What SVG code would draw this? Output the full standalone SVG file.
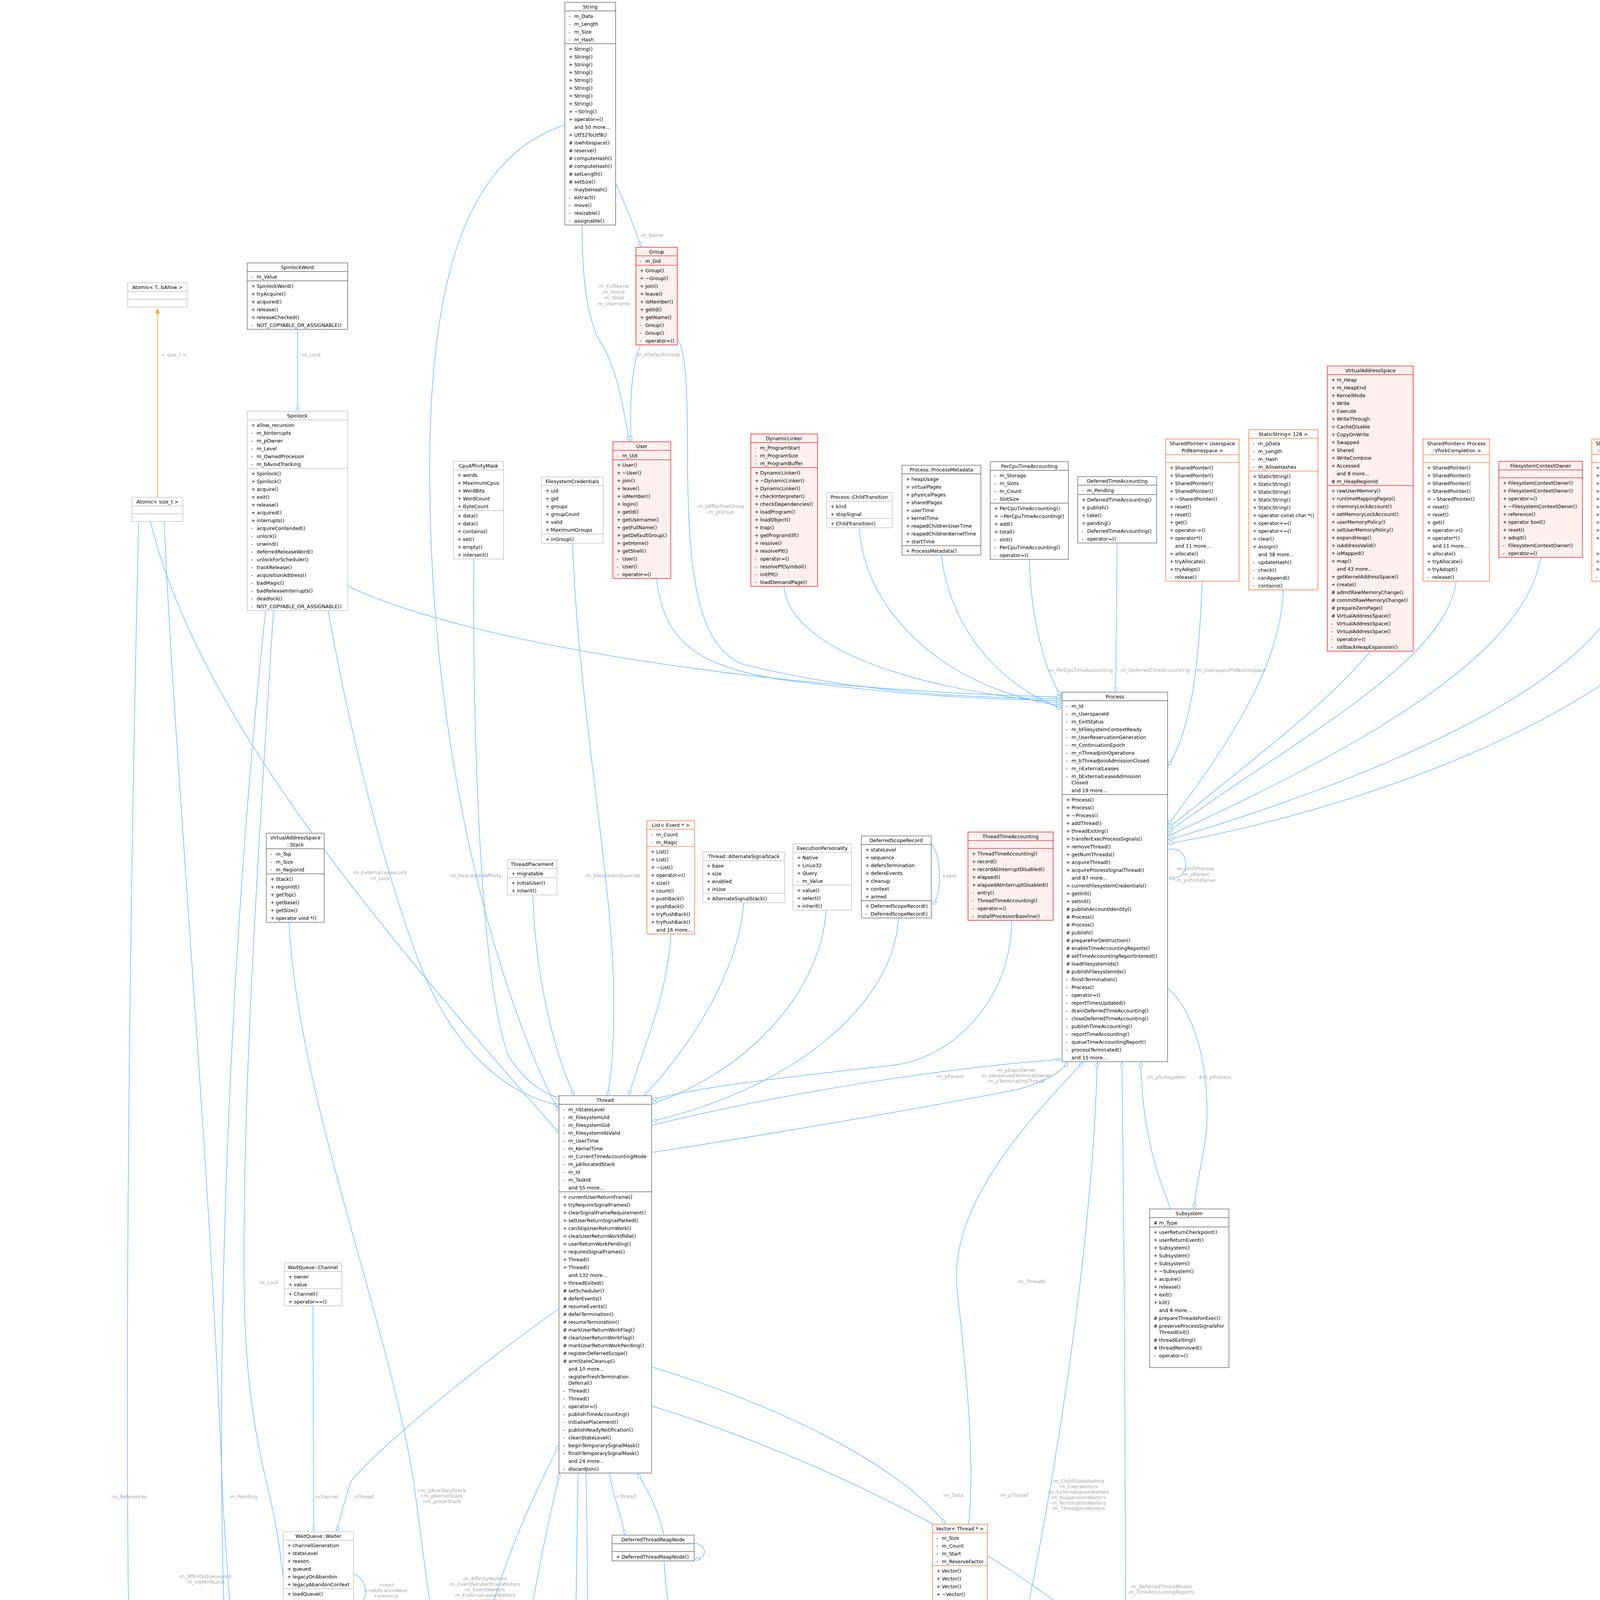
<svg xmlns="http://www.w3.org/2000/svg" width="4819" height="6569" viewBox="0 0 4819 6569">
<style>
.t{font-family:"DejaVu Sans","Liberation Sans",sans-serif;font-size:12.5px;fill:#000}
.h{font-family:"DejaVu Sans","Liberation Sans",sans-serif;font-size:12.5px;fill:#000;text-anchor:middle}
.lb{font-family:"DejaVu Sans","Liberation Sans",sans-serif;font-size:12.5px;fill:#A8A8A8;text-anchor:middle}
.e{fill:none;stroke:#63B8FF;stroke-width:1.5}
.dk rect,.dk line{stroke:#666;stroke-width:1.4;fill:#fff}
.lt rect,.lt line{stroke:#BFBFBF;stroke-width:1.4;fill:#fff}
.rd rect,.rd line{stroke:#F03030;stroke-width:1.6;fill:#FFF0F0}
.or rect,.or line{stroke:#FF7A45;stroke-width:1.6;fill:#fff}
.gr rect,.gr line{stroke:#666;stroke-width:1.4;fill:#999}
</style>
<defs>
<marker id="d" viewBox="0 0 16 10" refX="15" refY="5" markerWidth="16" markerHeight="10" markerUnits="userSpaceOnUse" orient="auto"><path d="M1,5 L8,1 L15,5 L8,9 Z" fill="#fff" stroke="#63B8FF" stroke-width="1.3"/></marker>
<marker id="to" viewBox="0 0 14 12" refX="13" refY="6" markerWidth="14" markerHeight="12" markerUnits="userSpaceOnUse" orient="auto"><path d="M1,1 L13,6 L1,11 Z" fill="#FFA500" stroke="#FFA500"/></marker>
<marker id="tb" viewBox="0 0 14 12" refX="13" refY="6" markerWidth="14" markerHeight="12" markerUnits="userSpaceOnUse" orient="auto"><path d="M1,1 L13,6 L1,11 Z" fill="#fff" stroke="#63B8FF" stroke-width="1.3"/></marker>
</defs>
<rect width="4819" height="6569" fill="#fff"/>

<g id="connectors">
<path class="e" d="M403,1273 L403,790" stroke="#FFA500" style="stroke:#FFA500" marker-end="url(#to)"/>
<text class="lb" x="445" y="913">&lt; size_t &gt;</text>
<path class="e" d="M762,843 L762,1051" marker-end="url(#d)"/>
<text class="lb" x="795" y="913">-m_Lock</text>
<path class="e" d="M1576,470 C1600,520 1625,585 1641,631" marker-end="url(#d)"/>
<text class="lb" x="1668" y="607">-m_Name</text>
<path class="e" d="M1490,576 C1490,780 1520,850 1540,880 C1570,930 1590,1000 1610,1129" marker-end="url(#d)"/>
<text class="lb" x="1570" y="737">-m_FullName</text><text class="lb" x="1570" y="752">-m_Home</text><text class="lb" x="1570" y="767">-m_Shell</text><text class="lb" x="1570" y="782">-m_Username</text>
<path class="e" d="M1640,883 C1620,930 1612,1000 1615,1129" marker-end="url(#d)"/>
<text class="lb" x="1683" y="912">-m_pDefaultGroup</text>
<path class="e" d="M1734,868 C1755,890 1760,1000 1760,1150 C1760,1450 1780,1650 1900,1700 C2200,1775 2500,1788 2717,1788" marker-end="url(#d)"/>
<text class="lb" x="1844" y="1300">-m_pEffectiveGroup</text><text class="lb" x="1844" y="1315">-m_pGroup</text>
<path class="e" d="M1680,1481 C1700,1620 1750,1700 2000,1740 C2400,1790 2600,1792 2717,1793" marker-end="url(#d)"/>
<path class="e" d="M2007,1501 C2020,1650 2300,1760 2717,1800" marker-end="url(#d)"/>
<path class="e" d="M2200,1351 C2210,1550 2400,1760 2717,1807" marker-end="url(#d)"/>
<path class="e" d="M2410,1421 C2430,1600 2550,1750 2717,1814" marker-end="url(#d)"/>
<path class="e" d="M2635,1432 C2640,1600 2680,1730 2717,1780" marker-end="url(#d)"/>
<text class="lb" x="2765" y="1720">-m_PerCpuTimeAccounting</text>
<path class="e" d="M2860,1390 L2856,1770" marker-end="url(#d)"/>
<text class="lb" x="2955" y="1720">-m_DeferredTimeAccounting</text>
<path class="e" d="M3078,1488 C3070,1650 3060,1850 2991,1960" marker-end="url(#d)"/>
<text class="lb" x="3150" y="1720">-m_UserspacePidNamespace</text>
<path class="e" d="M3285,1510 C3280,1700 3150,1900 2991,2110" marker-end="url(#d)"/>
<path class="e" d="M3508,1667 C3400,1800 3200,1950 2991,2120" marker-end="url(#d)"/>
<path class="e" d="M3728,1488 C3700,1700 3300,1900 2991,2130" marker-end="url(#d)"/>
<path class="e" d="M3944,1427 C3900,1700 3400,1950 2991,2140" marker-end="url(#d)"/>
<path class="e" d="M4160,1488 C4100,1750 3500,2000 2991,2150" marker-end="url(#d)"/>
<path class="e" d="M4373,1441 C4300,1750 3600,2050 2991,2160" marker-end="url(#d)"/>
<path class="e" d="M2991,2175 C3045,2160 3055,2255 2993,2248" marker-end="url(#d)"/>
<text class="lb" x="3060" y="2228">-m_pInitProcess</text><text class="lb" x="3060" y="2243">-m_pParent</text><text class="lb" x="3060" y="2258">-m_pVforkOwner</text>
<path class="e" d="M890,1500 C1200,1650 2000,1770 2717,1784" marker-end="url(#d)"/>
<path class="e" d="M2989,2530 C3050,2580 3090,2700 3090,2850 C3090,2950 3060,3020 3058,3093" marker-end="url(#d)"/>
<text class="lb" x="3110" y="2762">#m_pProcess</text>
<path class="e" d="M2997,3095 C2960,3000 2925,2900 2920,2720" marker-end="url(#d)"/>
<text class="lb" x="2985" y="2762">-m_pSubsystem</text>
<path class="e" d="M1670,2880 C2000,2800 2400,2735 2717,2712" marker-end="url(#d)"/>
<text class="lb" x="2431" y="2760">-m_pParent</text>
<path class="e" d="M1670,2950 C2000,2900 2450,2820 2600,2790 C2680,2770 2720,2740 2733,2720" marker-end="url(#d)"/>
<text class="lb" x="2600" y="2744">-m_pExecOwner</text><text class="lb" x="2600" y="2758">-m_pReservedTerminalOwner</text><text class="lb" x="2600" y="2772">-m_pTerminatingThread</text>
<path class="e" d="M2590,2356 C2590,2550 2450,2700 2300,2725 C2000,2760 1800,2780 1670,2815" marker-end="url(#d)"/>
<path class="e" d="M2480,3902 C2500,3700 2460,3400 2450,3300 C2430,3100 2600,2900 2772,2720" marker-end="url(#d)"/>
<text class="lb" x="2640" y="3285">-m_Threads</text>
<path class="e" d="M1670,3500 C2000,3600 2300,3750 2420,3900" marker-end="url(#d)"/>
<text class="lb" x="2440" y="3832">-m_Data</text>
<path class="e" d="M1670,3600 C2000,3700 2600,3950 2901,4278" marker-end="url(#d)"/>
<text class="lb" x="2595" y="3832">-m_pThread</text>
<path class="e" d="M1031,4780 C1500,4850 2300,4900 2440,4860 C2600,4400 2790,3400 2809,2720" marker-end="url(#d)"/>
<text class="lb" x="2760" y="3796">-m_ChildStateWaiters</text><text class="lb" x="2760" y="3810">-m_ExecWaiters</text><text class="lb" x="2760" y="3824">-m_ExternalLeaseWaiters</text><text class="lb" x="2760" y="3838">-m_SuspensionWaiters</text><text class="lb" x="2760" y="3852">-m_TerminationWaiters</text><text class="lb" x="2760" y="3866">-m_ThreadJoinWaiters</text>
<path class="e" d="M1983,5020 C2300,4950 2860,4950 2876,4800 C2885,4300 2880,3300 2872,2720" marker-end="url(#d)"/>
<text class="lb" x="2972" y="4066">-m_DeferredThreadReaps</text><text class="lb" x="2972" y="4080">-m_TimeAccountingReports</text>
<path class="e" d="M801,3343 L803,3919" marker-end="url(#d)"/>
<text class="lb" x="836" y="3836">+channel</text>
<path class="e" d="M1431,3350 C1150,3550 960,3720 900,3790 C885,3830 872,3880 862,3919" marker-end="url(#d)"/>
<text class="lb" x="931" y="3836">+thread</text>
<path class="e" d="M905,4030 C945,4040 945,4110 907,4112" marker-end="url(#d)"/>
<text class="lb" x="988" y="4062">+next</text><text class="lb" x="988" y="4076">+notificationNext</text><text class="lb" x="988" y="4090">+previous</text>
<path class="e" d="M700,1563 C660,2200 620,2800 625,3300 C630,3700 700,3800 720,4000 C760,4300 800,4450 860,4558" marker-end="url(#d)"/>
<text class="lb" x="687" y="3288">-m_Lock</text>
<path class="e" d="M420,1335 C450,2000 540,3000 570,3830 C590,4200 640,4700 700,5000 C740,5200 760,5350 765,5438" marker-end="url(#d)"/>
<text class="lb" x="622" y="3836">-m_Pending</text>
<path class="e" d="M355,1335 C330,2400 320,3500 330,4200 C340,4700 345,5100 352,5290" marker-end="url(#d)"/>
<text class="lb" x="330" y="3836">-m_References</text>
<path class="e" d="M385,1335 C500,1800 900,2300 1431,2900" marker-end="url(#d)"/>
<path class="e" d="M680,1563 C600,2300 540,3400 580,4300 C600,4800 1000,5500 1376,5760" marker-end="url(#d)"/>
<text class="lb" x="525" y="4040">-m_AffinityQueueLock</text><text class="lb" x="525" y="4054">-m_IrqWorkLock</text>
<path class="e" d="M840,1563 C900,1900 980,2200 1050,2400 C1150,2700 1300,2800 1431,2830" marker-end="url(#d)"/>
<text class="lb" x="972" y="2238">-m_ExternalLeaseLock</text><text class="lb" x="972" y="2253">-m_Lock</text>
<path class="e" d="M1213,1431 C1210,1900 1230,2500 1300,2700 C1350,2780 1400,2800 1433,2812" marker-end="url(#d)"/>
<text class="lb" x="1217" y="2246">-m_RequestedAffinity</text>
<path class="e" d="M1466,1391 C1480,1800 1560,2200 1570,2500 C1575,2700 1560,2780 1555,2803" marker-end="url(#d)"/>
<text class="lb" x="1568" y="2246">-m_FilesystemOverride</text>
<path class="e" d="M1446,320 C1200,400 1100,700 1100,1200 C1100,2000 1300,2600 1431,2845" marker-end="url(#d)"/>
<path class="e" d="M1364,2291 C1370,2500 1420,2700 1470,2803" marker-end="url(#d)"/>
<path class="e" d="M1717,2391 C1710,2550 1640,2700 1610,2803" marker-end="url(#d)"/>
<path class="e" d="M1904,2311 C1890,2500 1750,2700 1650,2803" marker-end="url(#d)"/>
<path class="e" d="M2115,2330 C2100,2550 1900,2750 1670,2825" marker-end="url(#d)"/>
<path class="e" d="M2300,2350 C2290,2560 2050,2780 1670,2870" marker-end="url(#d)"/>
<path class="e" d="M2384,2160 C2412,2190 2412,2300 2386,2315" marker-end="url(#d)"/>
<text class="lb" x="2430" y="2247">+next</text>
<path class="e" d="M740,2361 C760,2800 1000,3400 1060,3800 C1100,4100 1110,4220 1150,4250 C1200,4290 1220,4400 1230,4551" marker-end="url(#d)"/>
<text class="lb" x="1130" y="3820">+m_pAuxillaryStack</text><text class="lb" x="1130" y="3834">+m_pKernelStack</text><text class="lb" x="1130" y="3848">+m_pUserStack</text>
<path class="e" d="M1000,4558 C1100,4400 1200,4300 1230,4230 C1280,4000 1380,3800 1431,3700" marker-end="url(#d)"/>
<text class="lb" x="1240" y="4046">-m_AffinityWaiters</text><text class="lb" x="1240" y="4060">-m_EventSenderDrainWaiters</text><text class="lb" x="1240" y="4074">-m_EventWaiters</text><text class="lb" x="1240" y="4088">-m_ExternalLeaseWaiters</text><text class="lb" x="1240" y="4102">-m_JoinWaiters</text>
<path class="e" d="M1300,4551 C1320,4300 1400,3900 1433,3773" marker-end="url(#d)"/>
<path class="e" d="M831,4848 C720,4980 700,5100 690,5180 C670,5290 600,5330 499,5397" marker-end="url(#d)"/>
<text class="lb" x="803" y="5126">-m_CompletionWaiters</text>
<path class="e" d="M910,4950 C905,5150 840,5350 778,5438" marker-end="url(#d)"/>
<text class="lb" x="952" y="5126">-m_pWaiters</text>
<path class="e" d="M1400,5727 C1000,5560 600,5400 575,5120 C560,4800 650,4450 760,4233" marker-end="url(#d)"/>
<text class="lb" x="622" y="5126">+scheduler</text>
<path class="e" d="M995,4950 C1010,5100 1030,5250 1031,5367" marker-end="url(#d)"/>
<text class="lb" x="1070" y="5126">-m_Waiters</text>
<path class="e" d="M790,5440 C810,5425 855,5430 855,5475 C855,5512 810,5512 790,5508" marker-end="url(#d)"/>
<text class="lb" x="905" y="5477">-m_pNext</text>
<path class="e" d="M405,4835 L405,5290" marker-end="url(#d)"/>
<text class="lb" x="437" y="5126">-m_Key</text>
<path class="e" d="M730,5506 C720,5640 780,5720 900,5800 C1100,5900 1300,5990 1374,6010" marker-end="url(#d)"/>
<text class="lb" x="880" y="5686">-m_TimeAccountingWorkerWake</text><text class="lb" x="880" y="5700">-m_pWorkerWakeHead</text>
<path class="e" d="M980,5579 C965,5700 1050,5850 1374,6030" marker-end="url(#d)"/>
<text class="lb" x="1095" y="5694">-m_NewThreadDataCondition</text>
<path class="e" d="M1031,4910 C1150,5000 1250,5300 1300,5600 C1330,5800 1350,5980 1374,6050" marker-end="url(#d)"/>
<text class="lb" x="1200" y="5474">-m_TimeAccountingWorkerWaiters</text>
<path class="e" d="M1480,3771 C1470,4400 1455,5200 1462,5727" marker-end="url(#d)"/>
<path class="e" d="M1700,3930 C1680,3850 1650,3800 1632,3773" marker-end="url(#d)"/>
<path class="e" d="M1560,3771 C1570,3830 1590,3880 1600,3928" marker-end="url(#d)"/>
<text class="lb" x="1602" y="3835">+thread</text>
<path class="e" d="M1777,3950 C1812,3955 1812,3990 1779,3992" marker-end="url(#d)"/>
<path class="e" d="M1700,3996 C1720,4300 1830,4800 1850,4976" marker-end="url(#d)"/>
<path class="e" d="M1500,3771 C1510,4200 1500,4600 1503,5727" marker-end="url(#d)"/>
<path class="e" d="M1340,4900 C1600,5100 1700,5270 1800,5278 C2000,5285 2150,5280 2193,5317" marker-end="url(#d)"/>
<path class="e" d="M2500,5619 C2450,5720 2200,5850 1642,6080" marker-end="url(#d)"/>
<text class="lb" x="2520" y="5686">-m_PendingNewThreadData</text>
<path class="e" d="M2720,5627 C2650,5800 2200,5950 1642,6100" marker-end="url(#d)"/>
<path class="e" d="M2020,5545 C1950,5700 1800,5950 1642,6005" marker-end="url(#d)"/>
<path class="e" d="M1642,5760 C1700,5650 1770,5560 1811,5517" marker-end="url(#tb)"/>
<path class="e" d="M2990,4538 C3050,4800 3000,5100 2950,5250 C2850,5600 2200,6000 1642,6120" marker-end="url(#d)"/>
<path class="e" d="M4630,1367 C4650,3000 4680,5500 4650,6200 C4600,6400 2500,6300 1642,6140" marker-end="url(#d)"/>
</g>

<g id="n_string" class="dk" transform="translate(1446,6)"><rect width="130" height="570"/><line x1="0" y1="22" x2="130" y2="22"/><line x1="0" y1="106" x2="130" y2="106"/>
<text class="h" x="65" y="16">String</text>
<text class="t" y="20"><tspan x="10" dy="20">-</tspan><tspan x="24">m_Data</tspan><tspan x="10" dy="20">-</tspan><tspan x="24">m_Length</tspan><tspan x="10" dy="20">-</tspan><tspan x="24">m_Size</tspan><tspan x="10" dy="20">-</tspan><tspan x="24">m_Hash</tspan></text>
<text class="t" y="104"><tspan x="10" dy="20">+</tspan><tspan x="24">String()</tspan><tspan x="10" dy="20">+</tspan><tspan x="24">String()</tspan><tspan x="10" dy="20">+</tspan><tspan x="24">String()</tspan><tspan x="10" dy="20">+</tspan><tspan x="24">String()</tspan><tspan x="10" dy="20">+</tspan><tspan x="24">String()</tspan><tspan x="10" dy="20">+</tspan><tspan x="24">String()</tspan><tspan x="10" dy="20">+</tspan><tspan x="24">String()</tspan><tspan x="10" dy="20">+</tspan><tspan x="24">String()</tspan><tspan x="10" dy="20">+</tspan><tspan x="24">~String()</tspan><tspan x="10" dy="20">+</tspan><tspan x="24">operator=()</tspan><tspan x="24" dy="20">and 50 more...</tspan><tspan x="10" dy="20">+</tspan><tspan x="24">Utf32ToUtf8()</tspan><tspan x="10" dy="20">#</tspan><tspan x="24">iswhitespace()</tspan><tspan x="10" dy="20">#</tspan><tspan x="24">reserve()</tspan><tspan x="10" dy="20">#</tspan><tspan x="24">computeHash()</tspan><tspan x="10" dy="20">#</tspan><tspan x="24">computeHash()</tspan><tspan x="10" dy="20">#</tspan><tspan x="24">setLength()</tspan><tspan x="10" dy="20">#</tspan><tspan x="24">setSize()</tspan><tspan x="10" dy="20">-</tspan><tspan x="24">maybeHash()</tspan><tspan x="10" dy="20">-</tspan><tspan x="24">extract()</tspan><tspan x="10" dy="20">-</tspan><tspan x="24">move()</tspan><tspan x="10" dy="20">-</tspan><tspan x="24">resizable()</tspan><tspan x="10" dy="20">-</tspan><tspan x="24">assignable()</tspan></text></g>

<g id="n_atomic_t" class="lt" transform="translate(327,724)"><rect width="152" height="62"/><line x1="0" y1="22" x2="152" y2="22"/><line x1="0" y1="42" x2="152" y2="42"/><text class="h" x="76" y="16">Atomic&lt; T, bAllow &gt;</text></g>

<g id="n_spinlockword" class="dk" transform="translate(633,673)"><rect width="257" height="170"/><line x1="0" y1="22" x2="257" y2="22"/><line x1="0" y1="46" x2="257" y2="46"/>
<text class="h" x="128" y="16">SpinlockWord</text>
<text class="t" y="20"><tspan x="10" dy="20">-</tspan><tspan x="24">m_Value</tspan></text>
<text class="t" y="44"><tspan x="10" dy="20">+</tspan><tspan x="24">SpinlockWord()</tspan><tspan x="10" dy="20">+</tspan><tspan x="24">tryAcquire()</tspan><tspan x="10" dy="20">+</tspan><tspan x="24">acquired()</tspan><tspan x="10" dy="20">+</tspan><tspan x="24">release()</tspan><tspan x="10" dy="20">+</tspan><tspan x="24">releaseChecked()</tspan><tspan x="10" dy="20">-</tspan><tspan x="24">NOT_COPYABLE_OR_ASSIGNABLE()</tspan></text></g>

<g id="n_spinlock" class="lt" transform="translate(633,1053)"><rect width="257" height="510"/><line x1="0" y1="22" x2="257" y2="22"/><line x1="0" y1="146" x2="257" y2="146"/>
<text class="h" x="128" y="16">Spinlock</text>
<text class="t" y="20"><tspan x="10" dy="20">+</tspan><tspan x="24">allow_recursion</tspan><tspan x="10" dy="20">-</tspan><tspan x="24">m_bInterrupts</tspan><tspan x="10" dy="20">-</tspan><tspan x="24">m_pOwner</tspan><tspan x="10" dy="20">-</tspan><tspan x="24">m_Level</tspan><tspan x="10" dy="20">-</tspan><tspan x="24">m_OwnedProcessor</tspan><tspan x="10" dy="20">-</tspan><tspan x="24">m_bAvoidTracking</tspan></text>
<text class="t" y="144"><tspan x="10" dy="20">+</tspan><tspan x="24">Spinlock()</tspan><tspan x="10" dy="20">+</tspan><tspan x="24">Spinlock()</tspan><tspan x="10" dy="20">+</tspan><tspan x="24">acquire()</tspan><tspan x="10" dy="20">+</tspan><tspan x="24">exit()</tspan><tspan x="10" dy="20">+</tspan><tspan x="24">release()</tspan><tspan x="10" dy="20">+</tspan><tspan x="24">acquired()</tspan><tspan x="10" dy="20">+</tspan><tspan x="24">interrupts()</tspan><tspan x="10" dy="20">-</tspan><tspan x="24">acquireContended()</tspan><tspan x="10" dy="20">-</tspan><tspan x="24">unlock()</tspan><tspan x="10" dy="20">-</tspan><tspan x="24">unwind()</tspan><tspan x="10" dy="20">-</tspan><tspan x="24">deferredReleaseWord()</tspan><tspan x="10" dy="20">-</tspan><tspan x="24">unlockForScheduler()</tspan><tspan x="10" dy="20">-</tspan><tspan x="24">trackRelease()</tspan><tspan x="10" dy="20">-</tspan><tspan x="24">acquisitionAddress()</tspan><tspan x="10" dy="20">-</tspan><tspan x="24">badMagic()</tspan><tspan x="10" dy="20">-</tspan><tspan x="24">badReleaseInterrupts()</tspan><tspan x="10" dy="20">-</tspan><tspan x="24">deadlock()</tspan><tspan x="10" dy="20">-</tspan><tspan x="24">NOT_COPYABLE_OR_ASSIGNABLE()</tspan></text></g>

<g id="n_atomic_size" class="lt" transform="translate(338,1273)"><rect width="130" height="62"/><line x1="0" y1="22" x2="130" y2="22"/><line x1="0" y1="42" x2="130" y2="42"/><text class="h" x="65" y="16">Atomic&lt; size_t &gt;</text></g>

<g id="n_group" class="rd" transform="translate(1628,633)"><rect width="106" height="250"/><line x1="0" y1="22" x2="106" y2="22"/><line x1="0" y1="46" x2="106" y2="46"/>
<text class="h" x="53" y="16">Group</text>
<text class="t" y="20"><tspan x="10" dy="20">-</tspan><tspan x="24">m_Gid</tspan></text>
<text class="t" y="44"><tspan x="10" dy="20">+</tspan><tspan x="24">Group()</tspan><tspan x="10" dy="20">+</tspan><tspan x="24">~Group()</tspan><tspan x="10" dy="20">+</tspan><tspan x="24">join()</tspan><tspan x="10" dy="20">+</tspan><tspan x="24">leave()</tspan><tspan x="10" dy="20">+</tspan><tspan x="24">isMember()</tspan><tspan x="10" dy="20">+</tspan><tspan x="24">getId()</tspan><tspan x="10" dy="20">+</tspan><tspan x="24">getName()</tspan><tspan x="10" dy="20">-</tspan><tspan x="24">Group()</tspan><tspan x="10" dy="20">-</tspan><tspan x="24">Group()</tspan><tspan x="10" dy="20">-</tspan><tspan x="24">operator=()</tspan></text></g>

<g id="n_user" class="rd" transform="translate(1569,1131)"><rect width="148" height="350"/><line x1="0" y1="22" x2="148" y2="22"/><line x1="0" y1="46" x2="148" y2="46"/>
<text class="h" x="74" y="16">User</text>
<text class="t" y="20"><tspan x="10" dy="20">-</tspan><tspan x="24">m_Uid</tspan></text>
<text class="t" y="44"><tspan x="10" dy="20">+</tspan><tspan x="24">User()</tspan><tspan x="10" dy="20">+</tspan><tspan x="24">~User()</tspan><tspan x="10" dy="20">+</tspan><tspan x="24">join()</tspan><tspan x="10" dy="20">+</tspan><tspan x="24">leave()</tspan><tspan x="10" dy="20">+</tspan><tspan x="24">isMember()</tspan><tspan x="10" dy="20">+</tspan><tspan x="24">login()</tspan><tspan x="10" dy="20">+</tspan><tspan x="24">getId()</tspan><tspan x="10" dy="20">+</tspan><tspan x="24">getUsername()</tspan><tspan x="10" dy="20">+</tspan><tspan x="24">getFullName()</tspan><tspan x="10" dy="20">+</tspan><tspan x="24">getDefaultGroup()</tspan><tspan x="10" dy="20">+</tspan><tspan x="24">getHome()</tspan><tspan x="10" dy="20">+</tspan><tspan x="24">getShell()</tspan><tspan x="10" dy="20">-</tspan><tspan x="24">User()</tspan><tspan x="10" dy="20">-</tspan><tspan x="24">User()</tspan><tspan x="10" dy="20">-</tspan><tspan x="24">operator=()</tspan></text></g>

<g id="n_cpuaffinity" class="lt" transform="translate(1161,1181)"><rect width="128" height="250"/><line x1="0" y1="22" x2="128" y2="22"/><line x1="0" y1="126" x2="128" y2="126"/>
<text class="h" x="64" y="16">CpuAffinityMask</text>
<text class="t" y="20"><tspan x="10" dy="20">+</tspan><tspan x="24">words</tspan><tspan x="10" dy="20">+</tspan><tspan x="24">MaximumCpus</tspan><tspan x="10" dy="20">+</tspan><tspan x="24">WordBits</tspan><tspan x="10" dy="20">+</tspan><tspan x="24">WordCount</tspan><tspan x="10" dy="20">+</tspan><tspan x="24">ByteCount</tspan></text>
<text class="t" y="124"><tspan x="10" dy="20">+</tspan><tspan x="24">data()</tspan><tspan x="10" dy="20">+</tspan><tspan x="24">data()</tspan><tspan x="10" dy="20">+</tspan><tspan x="24">contains()</tspan><tspan x="10" dy="20">+</tspan><tspan x="24">set()</tspan><tspan x="10" dy="20">+</tspan><tspan x="24">empty()</tspan><tspan x="10" dy="20">+</tspan><tspan x="24">intersect()</tspan></text></g>

<g id="n_fscred" class="lt" transform="translate(1386,1221)"><rect width="158" height="170"/><line x1="0" y1="22" x2="158" y2="22"/><line x1="0" y1="146" x2="158" y2="146"/>
<text class="h" x="79" y="16">FilesystemCredentials</text>
<text class="t" y="20"><tspan x="10" dy="20">+</tspan><tspan x="24">uid</tspan><tspan x="10" dy="20">+</tspan><tspan x="24">gid</tspan><tspan x="10" dy="20">+</tspan><tspan x="24">groups</tspan><tspan x="10" dy="20">+</tspan><tspan x="24">groupCount</tspan><tspan x="10" dy="20">+</tspan><tspan x="24">valid</tspan><tspan x="10" dy="20">+</tspan><tspan x="24">MaximumGroups</tspan></text>
<text class="t" y="144"><tspan x="10" dy="20">+</tspan><tspan x="24">inGroup()</tspan></text></g>

<g id="n_dynlinker" class="rd" transform="translate(1922,1111)"><rect width="171" height="390"/><line x1="0" y1="22" x2="171" y2="22"/><line x1="0" y1="86" x2="171" y2="86"/>
<text class="h" x="85" y="16">DynamicLinker</text>
<text class="t" y="20"><tspan x="10" dy="20">-</tspan><tspan x="24">m_ProgramStart</tspan><tspan x="10" dy="20">-</tspan><tspan x="24">m_ProgramSize</tspan><tspan x="10" dy="20">-</tspan><tspan x="24">m_ProgramBuffer</tspan></text>
<text class="t" y="84"><tspan x="10" dy="20">+</tspan><tspan x="24">DynamicLinker()</tspan><tspan x="10" dy="20">+</tspan><tspan x="24">~DynamicLinker()</tspan><tspan x="10" dy="20">+</tspan><tspan x="24">DynamicLinker()</tspan><tspan x="10" dy="20">+</tspan><tspan x="24">checkInterpreter()</tspan><tspan x="10" dy="20">+</tspan><tspan x="24">checkDependencies()</tspan><tspan x="10" dy="20">+</tspan><tspan x="24">loadProgram()</tspan><tspan x="10" dy="20">+</tspan><tspan x="24">loadObject()</tspan><tspan x="10" dy="20">+</tspan><tspan x="24">trap()</tspan><tspan x="10" dy="20">+</tspan><tspan x="24">getProgramElf()</tspan><tspan x="10" dy="20">+</tspan><tspan x="24">resolve()</tspan><tspan x="10" dy="20">+</tspan><tspan x="24">resolvePlt()</tspan><tspan x="10" dy="20">-</tspan><tspan x="24">operator=()</tspan><tspan x="10" dy="20">-</tspan><tspan x="24">resolvePltSymbol()</tspan><tspan x="10" dy="20">-</tspan><tspan x="24">initPlt()</tspan><tspan x="10" dy="20">-</tspan><tspan x="24">loadDemandPage()</tspan></text></g>

<g id="n_childtransition" class="lt" transform="translate(2116,1261)"><rect width="168" height="90"/><line x1="0" y1="22" x2="168" y2="22"/><line x1="0" y1="66" x2="168" y2="66"/>
<text class="h" x="84" y="16">Process::ChildTransition</text>
<text class="t" y="20"><tspan x="10" dy="20">+</tspan><tspan x="24">kind</tspan><tspan x="10" dy="20">+</tspan><tspan x="24">stopSignal</tspan></text>
<text class="t" y="64"><tspan x="10" dy="20">+</tspan><tspan x="24">ChildTransition()</tspan></text></g>

<g id="n_metadata" class="dk" transform="translate(2309,1191)"><rect width="202" height="230"/><line x1="0" y1="22" x2="202" y2="22"/><line x1="0" y1="206" x2="202" y2="206"/>
<text class="h" x="101" y="16">Process::ProcessMetadata</text>
<text class="t" y="20"><tspan x="10" dy="20">+</tspan><tspan x="24">heapUsage</tspan><tspan x="10" dy="20">+</tspan><tspan x="24">virtualPages</tspan><tspan x="10" dy="20">+</tspan><tspan x="24">physicalPages</tspan><tspan x="10" dy="20">+</tspan><tspan x="24">sharedPages</tspan><tspan x="10" dy="20">+</tspan><tspan x="24">userTime</tspan><tspan x="10" dy="20">+</tspan><tspan x="24">kernelTime</tspan><tspan x="10" dy="20">+</tspan><tspan x="24">reapedChildrenUserTime</tspan><tspan x="10" dy="20">+</tspan><tspan x="24">reapedChildrenKernelTime</tspan><tspan x="10" dy="20">+</tspan><tspan x="24">startTime</tspan></text>
<text class="t" y="204"><tspan x="10" dy="20">+</tspan><tspan x="24">ProcessMetadata()</tspan></text></g>

<g id="n_percpu" class="dk" transform="translate(2535,1182)"><rect width="200" height="250"/><line x1="0" y1="22" x2="200" y2="22"/><line x1="0" y1="106" x2="200" y2="106"/>
<text class="h" x="100" y="16">PerCpuTimeAccounting</text>
<text class="t" y="20"><tspan x="10" dy="20">-</tspan><tspan x="24">m_Storage</tspan><tspan x="10" dy="20">-</tspan><tspan x="24">m_Slots</tspan><tspan x="10" dy="20">-</tspan><tspan x="24">m_Count</tspan><tspan x="10" dy="20">-</tspan><tspan x="24">SlotSize</tspan></text>
<text class="t" y="104"><tspan x="10" dy="20">+</tspan><tspan x="24">PerCpuTimeAccounting()</tspan><tspan x="10" dy="20">+</tspan><tspan x="24">~PerCpuTimeAccounting()</tspan><tspan x="10" dy="20">+</tspan><tspan x="24">add()</tspan><tspan x="10" dy="20">+</tspan><tspan x="24">total()</tspan><tspan x="10" dy="20">-</tspan><tspan x="24">slot()</tspan><tspan x="10" dy="20">-</tspan><tspan x="24">PerCpuTimeAccounting()</tspan><tspan x="10" dy="20">-</tspan><tspan x="24">operator=()</tspan></text></g>

<g id="n_deferredta" class="dk" transform="translate(2759,1220)"><rect width="202" height="170"/><line x1="0" y1="22" x2="202" y2="22"/><line x1="0" y1="46" x2="202" y2="46"/>
<text class="h" x="101" y="16">DeferredTimeAccounting</text>
<text class="t" y="20"><tspan x="10" dy="20">-</tspan><tspan x="24">m_Pending</tspan></text>
<text class="t" y="44"><tspan x="10" dy="20">+</tspan><tspan x="24">DeferredTimeAccounting()</tspan><tspan x="10" dy="20">+</tspan><tspan x="24">publish()</tspan><tspan x="10" dy="20">+</tspan><tspan x="24">take()</tspan><tspan x="10" dy="20">+</tspan><tspan x="24">pending()</tspan><tspan x="10" dy="20">-</tspan><tspan x="24">DeferredTimeAccounting()</tspan><tspan x="10" dy="20">-</tspan><tspan x="24">operator=()</tspan></text></g>

<g id="n_sp_pidns" class="or" transform="translate(2984,1124)"><rect width="188" height="364"/><line x1="0" y1="40" x2="188" y2="40"/><line x1="0" y1="60" x2="188" y2="60"/>
<text class="h" x="94" y="16">SharedPointer&lt; Userspace</text><text class="h" x="94" y="34">PidNamespace &gt;</text>
<text class="t" y="58"><tspan x="10" dy="20">+</tspan><tspan x="24">SharedPointer()</tspan><tspan x="10" dy="20">+</tspan><tspan x="24">SharedPointer()</tspan><tspan x="10" dy="20">+</tspan><tspan x="24">SharedPointer()</tspan><tspan x="10" dy="20">+</tspan><tspan x="24">SharedPointer()</tspan><tspan x="10" dy="20">+</tspan><tspan x="24">~SharedPointer()</tspan><tspan x="10" dy="20">+</tspan><tspan x="24">reset()</tspan><tspan x="10" dy="20">+</tspan><tspan x="24">reset()</tspan><tspan x="10" dy="20">+</tspan><tspan x="24">get()</tspan><tspan x="10" dy="20">+</tspan><tspan x="24">operator-&gt;()</tspan><tspan x="10" dy="20">+</tspan><tspan x="24">operator*()</tspan><tspan x="24" dy="20">and 11 more...</tspan><tspan x="10" dy="20">+</tspan><tspan x="24">allocate()</tspan><tspan x="10" dy="20">+</tspan><tspan x="24">tryAllocate()</tspan><tspan x="10" dy="20">+</tspan><tspan x="24">tryAdopt()</tspan><tspan x="10" dy="20">-</tspan><tspan x="24">release()</tspan></text></g>

<g id="n_staticstring" class="or" transform="translate(3197,1100)"><rect width="177" height="410"/><line x1="0" y1="22" x2="177" y2="22"/><line x1="0" y1="106" x2="177" y2="106"/>
<text class="h" x="88" y="16">StaticString&lt; 128 &gt;</text>
<text class="t" y="20"><tspan x="10" dy="20">-</tspan><tspan x="24">m_pData</tspan><tspan x="10" dy="20">-</tspan><tspan x="24">m_Length</tspan><tspan x="10" dy="20">-</tspan><tspan x="24">m_Hash</tspan><tspan x="10" dy="20">-</tspan><tspan x="24">m_AllowHashes</tspan></text>
<text class="t" y="104"><tspan x="10" dy="20">+</tspan><tspan x="24">StaticString()</tspan><tspan x="10" dy="20">+</tspan><tspan x="24">StaticString()</tspan><tspan x="10" dy="20">+</tspan><tspan x="24">StaticString()</tspan><tspan x="10" dy="20">+</tspan><tspan x="24">StaticString()</tspan><tspan x="10" dy="20">+</tspan><tspan x="24">StaticString()</tspan><tspan x="10" dy="20">+</tspan><tspan x="24">operator const char *()</tspan><tspan x="10" dy="20">+</tspan><tspan x="24">operator+=()</tspan><tspan x="10" dy="20">+</tspan><tspan x="24">operator+=()</tspan><tspan x="10" dy="20">+</tspan><tspan x="24">clear()</tspan><tspan x="10" dy="20">+</tspan><tspan x="24">assign()</tspan><tspan x="24" dy="20">and 38 more...</tspan><tspan x="10" dy="20">-</tspan><tspan x="24">updateHash()</tspan><tspan x="10" dy="20">-</tspan><tspan x="24">check()</tspan><tspan x="10" dy="20">-</tspan><tspan x="24">canAppend()</tspan><tspan x="10" dy="20">-</tspan><tspan x="24">contains()</tspan></text></g>

<g id="n_vas" class="rd" transform="translate(3398,937)"><rect width="220" height="730"/><line x1="0" y1="22" x2="220" y2="22"/><line x1="0" y1="306" x2="220" y2="306"/>
<text class="h" x="110" y="16">VirtualAddressSpace</text>
<text class="t" y="20"><tspan x="10" dy="20">+</tspan><tspan x="24">m_Heap</tspan><tspan x="10" dy="20">+</tspan><tspan x="24">m_HeapEnd</tspan><tspan x="10" dy="20">+</tspan><tspan x="24">KernelMode</tspan><tspan x="10" dy="20">+</tspan><tspan x="24">Write</tspan><tspan x="10" dy="20">+</tspan><tspan x="24">Execute</tspan><tspan x="10" dy="20">+</tspan><tspan x="24">WriteThrough</tspan><tspan x="10" dy="20">+</tspan><tspan x="24">CacheDisable</tspan><tspan x="10" dy="20">+</tspan><tspan x="24">CopyOnWrite</tspan><tspan x="10" dy="20">+</tspan><tspan x="24">Swapped</tspan><tspan x="10" dy="20">+</tspan><tspan x="24">Shared</tspan><tspan x="10" dy="20">+</tspan><tspan x="24">WriteCombine</tspan><tspan x="10" dy="20">+</tspan><tspan x="24">Accessed</tspan><tspan x="24" dy="20">and 8 more...</tspan><tspan x="10" dy="20">#</tspan><tspan x="24">m_HeapRegionId</tspan></text>
<text class="t" y="304"><tspan x="10" dy="20">+</tspan><tspan x="24">rawUserMemory()</tspan><tspan x="10" dy="20">+</tspan><tspan x="24">runtimeMappingPages()</tspan><tspan x="10" dy="20">+</tspan><tspan x="24">memoryLockAccount()</tspan><tspan x="10" dy="20">+</tspan><tspan x="24">setMemoryLockAccount()</tspan><tspan x="10" dy="20">+</tspan><tspan x="24">userMemoryPolicy()</tspan><tspan x="10" dy="20">+</tspan><tspan x="24">setUserMemoryPolicy()</tspan><tspan x="10" dy="20">+</tspan><tspan x="24">expandHeap()</tspan><tspan x="10" dy="20">+</tspan><tspan x="24">isAddressValid()</tspan><tspan x="10" dy="20">+</tspan><tspan x="24">isMapped()</tspan><tspan x="10" dy="20">+</tspan><tspan x="24">map()</tspan><tspan x="24" dy="20">and 43 more...</tspan><tspan x="10" dy="20">+</tspan><tspan x="24">getKernelAddressSpace()</tspan><tspan x="10" dy="20">+</tspan><tspan x="24">create()</tspan><tspan x="10" dy="20">#</tspan><tspan x="24">admitRawMemoryChange()</tspan><tspan x="10" dy="20">#</tspan><tspan x="24">commitRawMemoryChange()</tspan><tspan x="10" dy="20">#</tspan><tspan x="24">prepareZeroPage()</tspan><tspan x="10" dy="20">#</tspan><tspan x="24">VirtualAddressSpace()</tspan><tspan x="10" dy="20">-</tspan><tspan x="24">VirtualAddressSpace()</tspan><tspan x="10" dy="20">-</tspan><tspan x="24">VirtualAddressSpace()</tspan><tspan x="10" dy="20">-</tspan><tspan x="24">operator=()</tspan><tspan x="10" dy="20">-</tspan><tspan x="24">rollbackHeapExpansion()</tspan></text></g>

<g id="n_sp_vfork" class="or" transform="translate(3643,1124)"><rect width="170" height="364"/><line x1="0" y1="40" x2="170" y2="40"/><line x1="0" y1="60" x2="170" y2="60"/>
<text class="h" x="85" y="16">SharedPointer&lt; Process</text><text class="h" x="85" y="34">::VforkCompletion &gt;</text>
<text class="t" y="58"><tspan x="10" dy="20">+</tspan><tspan x="24">SharedPointer()</tspan><tspan x="10" dy="20">+</tspan><tspan x="24">SharedPointer()</tspan><tspan x="10" dy="20">+</tspan><tspan x="24">SharedPointer()</tspan><tspan x="10" dy="20">+</tspan><tspan x="24">SharedPointer()</tspan><tspan x="10" dy="20">+</tspan><tspan x="24">~SharedPointer()</tspan><tspan x="10" dy="20">+</tspan><tspan x="24">reset()</tspan><tspan x="10" dy="20">+</tspan><tspan x="24">reset()</tspan><tspan x="10" dy="20">+</tspan><tspan x="24">get()</tspan><tspan x="10" dy="20">+</tspan><tspan x="24">operator-&gt;()</tspan><tspan x="10" dy="20">+</tspan><tspan x="24">operator*()</tspan><tspan x="24" dy="20">and 11 more...</tspan><tspan x="10" dy="20">+</tspan><tspan x="24">allocate()</tspan><tspan x="10" dy="20">+</tspan><tspan x="24">tryAllocate()</tspan><tspan x="10" dy="20">+</tspan><tspan x="24">tryAdopt()</tspan><tspan x="10" dy="20">-</tspan><tspan x="24">release()</tspan></text></g>

<g id="n_fsctxowner" class="rd" transform="translate(3837,1181)"><rect width="214" height="246"/><line x1="0" y1="22" x2="214" y2="22"/><line x1="0" y1="42" x2="214" y2="42"/>
<text class="h" x="107" y="16">FilesystemContextOwner</text>
<text class="t" y="40"><tspan x="10" dy="20">+</tspan><tspan x="24">FilesystemContextOwner()</tspan><tspan x="10" dy="20">+</tspan><tspan x="24">FilesystemContextOwner()</tspan><tspan x="10" dy="20">+</tspan><tspan x="24">operator=()</tspan><tspan x="10" dy="20">+</tspan><tspan x="24">~FilesystemContextOwner()</tspan><tspan x="10" dy="20">+</tspan><tspan x="24">reference()</tspan><tspan x="10" dy="20">+</tspan><tspan x="24">operator bool()</tspan><tspan x="10" dy="20">+</tspan><tspan x="24">reset()</tspan><tspan x="10" dy="20">+</tspan><tspan x="24">adopt()</tspan><tspan x="10" dy="20">-</tspan><tspan x="24">FilesystemContextOwner()</tspan><tspan x="10" dy="20">-</tspan><tspan x="24">operator=()</tspan></text></g>

<g id="n_sp_ctty" class="or" transform="translate(4075,1124)"><rect width="170" height="364"/><line x1="0" y1="40" x2="170" y2="40"/><line x1="0" y1="60" x2="170" y2="60"/>
<text class="h" x="85" y="16">SharedPointer&lt; Process</text><text class="h" x="85" y="34">::ControllingTerminal &gt;</text>
<text class="t" y="58"><tspan x="10" dy="20">+</tspan><tspan x="24">SharedPointer()</tspan><tspan x="10" dy="20">+</tspan><tspan x="24">SharedPointer()</tspan><tspan x="10" dy="20">+</tspan><tspan x="24">SharedPointer()</tspan><tspan x="10" dy="20">+</tspan><tspan x="24">SharedPointer()</tspan><tspan x="10" dy="20">+</tspan><tspan x="24">~SharedPointer()</tspan><tspan x="10" dy="20">+</tspan><tspan x="24">reset()</tspan><tspan x="10" dy="20">+</tspan><tspan x="24">reset()</tspan><tspan x="10" dy="20">+</tspan><tspan x="24">get()</tspan><tspan x="10" dy="20">+</tspan><tspan x="24">operator-&gt;()</tspan><tspan x="10" dy="20">+</tspan><tspan x="24">operator*()</tspan><tspan x="24" dy="20">and 11 more...</tspan><tspan x="10" dy="20">+</tspan><tspan x="24">allocate()</tspan><tspan x="10" dy="20">+</tspan><tspan x="24">tryAllocate()</tspan><tspan x="10" dy="20">+</tspan><tspan x="24">tryAdopt()</tspan><tspan x="10" dy="20">-</tspan><tspan x="24">release()</tspan></text></g>

<g id="n_rangelist" class="or" transform="translate(4270,1171)"><rect width="207" height="270"/><line x1="0" y1="22" x2="207" y2="22"/><line x1="0" y1="46" x2="207" y2="46"/>
<text class="h" x="103" y="16">RangeList&lt; uintptr_t &gt;</text>
<text class="t" y="20"><tspan x="10" dy="20">-</tspan><tspan x="24">m_bPreferUsed</tspan></text>
<text class="t" y="44"><tspan x="10" dy="20">+</tspan><tspan x="24">RangeList()</tspan><tspan x="10" dy="20">+</tspan><tspan x="24">RangeList()</tspan><tspan x="10" dy="20">+</tspan><tspan x="24">RangeList()</tspan><tspan x="10" dy="20">+</tspan><tspan x="24">RangeList()</tspan><tspan x="10" dy="20">+</tspan><tspan x="24">~RangeList()</tspan><tspan x="10" dy="20">+</tspan><tspan x="24">operator=()</tspan><tspan x="10" dy="20">+</tspan><tspan x="24">free()</tspan><tspan x="10" dy="20">+</tspan><tspan x="24">tryFree()</tspan><tspan x="10" dy="20">+</tspan><tspan x="24">freeWithoutAllocation()</tspan><tspan x="10" dy="20">+</tspan><tspan x="24">allocateWithoutAllocation()</tspan><tspan x="24" dy="20">and 9 more...</tspan></text></g>

<g id="n_mutex" class="rd" transform="translate(4523,1241)"><rect width="207" height="126"/><line x1="0" y1="22" x2="207" y2="22"/><line x1="0" y1="42" x2="207" y2="42"/>
<text class="h" x="103" y="16">Mutex</text>
<text class="t" y="40"><tspan x="10" dy="20">+</tspan><tspan x="24">Mutex()</tspan><tspan x="10" dy="20">+</tspan><tspan x="24">Mutex()</tspan><tspan x="10" dy="20">+</tspan><tspan x="24">~Mutex()</tspan><tspan x="10" dy="20">+</tspan><tspan x="24">isOwnedByCurrentThread()</tspan></text></g>

<g id="n_process" class="dk" transform="translate(2719,1772)"><rect width="270" height="946"/><line x1="0" y1="22" x2="270" y2="22"/><line x1="0" y1="262" x2="270" y2="262"/>
<text class="h" x="135" y="16">Process</text>
<text class="t" y="20"><tspan x="10" dy="20">-</tspan><tspan x="24">m_Id</tspan><tspan x="10" dy="20">-</tspan><tspan x="24">m_UserspaceId</tspan><tspan x="10" dy="20">-</tspan><tspan x="24">m_ExitStatus</tspan><tspan x="10" dy="20">-</tspan><tspan x="24">m_bFilesystemContextReady</tspan><tspan x="10" dy="20">-</tspan><tspan x="24">m_UserReservationGeneration</tspan><tspan x="10" dy="20">-</tspan><tspan x="24">m_ContinuationEpoch</tspan><tspan x="10" dy="20">-</tspan><tspan x="24">m_nThreadJoinOperations</tspan><tspan x="10" dy="20">-</tspan><tspan x="24">m_bThreadJoinAdmissionClosed</tspan><tspan x="10" dy="20">-</tspan><tspan x="24">m_nExternalLeases</tspan><tspan x="10" dy="20">-</tspan><tspan x="24">m_bExternalLeaseAdmission</tspan><tspan x="24" dy="16">Closed</tspan><tspan x="24" dy="20">and 19 more...</tspan></text>
<text class="t" y="260"><tspan x="10" dy="20">+</tspan><tspan x="24">Process()</tspan><tspan x="10" dy="20">+</tspan><tspan x="24">Process()</tspan><tspan x="10" dy="20">+</tspan><tspan x="24">~Process()</tspan><tspan x="10" dy="20">+</tspan><tspan x="24">addThread()</tspan><tspan x="10" dy="20">+</tspan><tspan x="24">threadExiting()</tspan><tspan x="10" dy="20">+</tspan><tspan x="24">transferExecProcessSignals()</tspan><tspan x="10" dy="20">+</tspan><tspan x="24">removeThread()</tspan><tspan x="10" dy="20">+</tspan><tspan x="24">getNumThreads()</tspan><tspan x="10" dy="20">+</tspan><tspan x="24">acquireThread()</tspan><tspan x="10" dy="20">+</tspan><tspan x="24">acquireProcessSignalThread()</tspan><tspan x="24" dy="20">and 87 more...</tspan><tspan x="10" dy="20">+</tspan><tspan x="24">currentFilesystemCredentials()</tspan><tspan x="10" dy="20">+</tspan><tspan x="24">getInit()</tspan><tspan x="10" dy="20">+</tspan><tspan x="24">setInit()</tspan><tspan x="10" dy="20">#</tspan><tspan x="24">publishAccountIdentity()</tspan><tspan x="10" dy="20">#</tspan><tspan x="24">Process()</tspan><tspan x="10" dy="20">#</tspan><tspan x="24">Process()</tspan><tspan x="10" dy="20">#</tspan><tspan x="24">publish()</tspan><tspan x="10" dy="20">#</tspan><tspan x="24">prepareForDestruction()</tspan><tspan x="10" dy="20">#</tspan><tspan x="24">enableTimeAccountingReports()</tspan><tspan x="10" dy="20">#</tspan><tspan x="24">setTimeAccountingReportInterest()</tspan><tspan x="10" dy="20">#</tspan><tspan x="24">loadFilesystemIds()</tspan><tspan x="10" dy="20">#</tspan><tspan x="24">publishFilesystemIds()</tspan><tspan x="10" dy="20">-</tspan><tspan x="24">finishTermination()</tspan><tspan x="10" dy="20">-</tspan><tspan x="24">Process()</tspan><tspan x="10" dy="20">-</tspan><tspan x="24">operator=()</tspan><tspan x="10" dy="20">-</tspan><tspan x="24">reportTimesUpdated()</tspan><tspan x="10" dy="20">-</tspan><tspan x="24">drainDeferredTimeAccounting()</tspan><tspan x="10" dy="20">-</tspan><tspan x="24">closeDeferredTimeAccounting()</tspan><tspan x="10" dy="20">-</tspan><tspan x="24">publishTimeAccounting()</tspan><tspan x="10" dy="20">-</tspan><tspan x="24">reportTimeAccounting()</tspan><tspan x="10" dy="20">-</tspan><tspan x="24">queueTimeAccountingReport()</tspan><tspan x="10" dy="20">-</tspan><tspan x="24">processTerminated()</tspan><tspan x="24" dy="20">and 15 more...</tspan></text></g>

<g id="n_stack" class="dk" transform="translate(682,2133)"><rect width="148" height="228"/><line x1="0" y1="40" x2="148" y2="40"/><line x1="0" y1="104" x2="148" y2="104"/>
<text class="h" x="74" y="16">VirtualAddressSpace</text><text class="h" x="74" y="34">::Stack</text>
<text class="t" y="38"><tspan x="10" dy="20">-</tspan><tspan x="24">m_Top</tspan><tspan x="10" dy="20">-</tspan><tspan x="24">m_Size</tspan><tspan x="10" dy="20">-</tspan><tspan x="24">m_RegionId</tspan></text>
<text class="t" y="102"><tspan x="10" dy="20">+</tspan><tspan x="24">Stack()</tspan><tspan x="10" dy="20">+</tspan><tspan x="24">regionId()</tspan><tspan x="10" dy="20">+</tspan><tspan x="24">getTop()</tspan><tspan x="10" dy="20">+</tspan><tspan x="24">getBase()</tspan><tspan x="10" dy="20">+</tspan><tspan x="24">getSize()</tspan><tspan x="10" dy="20">+</tspan><tspan x="24">operator void *()</tspan></text></g>

<g id="n_threadplacement" class="lt" transform="translate(1299,2201)"><rect width="127" height="90"/><line x1="0" y1="22" x2="127" y2="22"/><line x1="0" y1="46" x2="127" y2="46"/>
<text class="h" x="63" y="16">ThreadPlacement</text>
<text class="t" y="20"><tspan x="10" dy="20">+</tspan><tspan x="24">migratable</tspan></text>
<text class="t" y="44"><tspan x="10" dy="20">+</tspan><tspan x="24">initialUser()</tspan><tspan x="10" dy="20">+</tspan><tspan x="24">inherit()</tspan></text></g>

<g id="n_listevent" class="or" transform="translate(1656,2101)"><rect width="122" height="290"/><line x1="0" y1="22" x2="122" y2="22"/><line x1="0" y1="66" x2="122" y2="66"/>
<text class="h" x="61" y="16">List&lt; Event * &gt;</text>
<text class="t" y="20"><tspan x="10" dy="20">-</tspan><tspan x="24">m_Count</tspan><tspan x="10" dy="20">-</tspan><tspan x="24">m_Magic</tspan></text>
<text class="t" y="64"><tspan x="10" dy="20">+</tspan><tspan x="24">List()</tspan><tspan x="10" dy="20">+</tspan><tspan x="24">List()</tspan><tspan x="10" dy="20">+</tspan><tspan x="24">~List()</tspan><tspan x="10" dy="20">+</tspan><tspan x="24">operator=()</tspan><tspan x="10" dy="20">+</tspan><tspan x="24">size()</tspan><tspan x="10" dy="20">+</tspan><tspan x="24">count()</tspan><tspan x="10" dy="20">+</tspan><tspan x="24">pushBack()</tspan><tspan x="10" dy="20">+</tspan><tspan x="24">pushBack()</tspan><tspan x="10" dy="20">+</tspan><tspan x="24">tryPushBack()</tspan><tspan x="10" dy="20">+</tspan><tspan x="24">tryPushBack()</tspan><tspan x="24" dy="20">and 16 more...</tspan></text></g>

<g id="n_altstack" class="lt" transform="translate(1799,2181)"><rect width="210" height="130"/><line x1="0" y1="22" x2="210" y2="22"/><line x1="0" y1="106" x2="210" y2="106"/>
<text class="h" x="105" y="16">Thread::AlternateSignalStack</text>
<text class="t" y="20"><tspan x="10" dy="20">+</tspan><tspan x="24">base</tspan><tspan x="10" dy="20">+</tspan><tspan x="24">size</tspan><tspan x="10" dy="20">+</tspan><tspan x="24">enabled</tspan><tspan x="10" dy="20">+</tspan><tspan x="24">inUse</tspan></text>
<text class="t" y="104"><tspan x="10" dy="20">+</tspan><tspan x="24">AlternateSignalStack()</tspan></text></g>

<g id="n_execpersonality" class="lt" transform="translate(2030,2160)"><rect width="150" height="170"/><line x1="0" y1="22" x2="150" y2="22"/><line x1="0" y1="106" x2="150" y2="106"/>
<text class="h" x="75" y="16">ExecutionPersonality</text>
<text class="t" y="20"><tspan x="10" dy="20">+</tspan><tspan x="24">Native</tspan><tspan x="10" dy="20">+</tspan><tspan x="24">Linux32</tspan><tspan x="10" dy="20">+</tspan><tspan x="24">Query</tspan><tspan x="10" dy="20">-</tspan><tspan x="24">m_Value</tspan></text>
<text class="t" y="104"><tspan x="10" dy="20">+</tspan><tspan x="24">value()</tspan><tspan x="10" dy="20">+</tspan><tspan x="24">select()</tspan><tspan x="10" dy="20">+</tspan><tspan x="24">inherit()</tspan></text></g>

<g id="n_deferredscope" class="dk" transform="translate(2205,2140)"><rect width="179" height="210"/><line x1="0" y1="22" x2="179" y2="22"/><line x1="0" y1="166" x2="179" y2="166"/>
<text class="h" x="89" y="16">DeferredScopeRecord</text>
<text class="t" y="20"><tspan x="10" dy="20">+</tspan><tspan x="24">stateLevel</tspan><tspan x="10" dy="20">+</tspan><tspan x="24">sequence</tspan><tspan x="10" dy="20">+</tspan><tspan x="24">defersTermination</tspan><tspan x="10" dy="20">+</tspan><tspan x="24">defersEvents</tspan><tspan x="10" dy="20">+</tspan><tspan x="24">cleanup</tspan><tspan x="10" dy="20">+</tspan><tspan x="24">context</tspan><tspan x="10" dy="20">+</tspan><tspan x="24">armed</tspan></text>
<text class="t" y="164"><tspan x="10" dy="20">+</tspan><tspan x="24">DeferredScopeRecord()</tspan><tspan x="10" dy="20">-</tspan><tspan x="24">DeferredScopeRecord()</tspan></text></g>

<g id="n_threadta" class="rd" transform="translate(2478,2130)"><rect width="218" height="226"/><line x1="0" y1="22" x2="218" y2="22"/><line x1="0" y1="42" x2="218" y2="42"/>
<text class="h" x="109" y="16">ThreadTimeAccounting</text>
<text class="t" y="40"><tspan x="10" dy="20">+</tspan><tspan x="24">ThreadTimeAccounting()</tspan><tspan x="10" dy="20">+</tspan><tspan x="24">record()</tspan><tspan x="10" dy="20">+</tspan><tspan x="24">recordAtInterruptDisabled()</tspan><tspan x="10" dy="20">+</tspan><tspan x="24">elapsed()</tspan><tspan x="10" dy="20">+</tspan><tspan x="24">elapsedAtInterruptDisabled()</tspan><tspan x="10" dy="20">-</tspan><tspan x="24">entry()</tspan><tspan x="10" dy="20">-</tspan><tspan x="24">ThreadTimeAccounting()</tspan><tspan x="10" dy="20">-</tspan><tspan x="24">operator=()</tspan><tspan x="10" dy="20">-</tspan><tspan x="24">installProcessorBaseline()</tspan></text></g>

<g id="n_thread" class="dk" transform="translate(1431,2805)"><rect width="237" height="966"/><line x1="0" y1="22" x2="237" y2="22"/><line x1="0" y1="246" x2="237" y2="246"/>
<text class="h" x="118" y="16">Thread</text>
<text class="t" y="20"><tspan x="10" dy="20">-</tspan><tspan x="24">m_nStateLevel</tspan><tspan x="10" dy="20">-</tspan><tspan x="24">m_FilesystemUid</tspan><tspan x="10" dy="20">-</tspan><tspan x="24">m_FilesystemGid</tspan><tspan x="10" dy="20">-</tspan><tspan x="24">m_FilesystemIdsValid</tspan><tspan x="10" dy="20">-</tspan><tspan x="24">m_UserTime</tspan><tspan x="10" dy="20">-</tspan><tspan x="24">m_KernelTime</tspan><tspan x="10" dy="20">-</tspan><tspan x="24">m_CurrentTimeAccountingMode</tspan><tspan x="10" dy="20">-</tspan><tspan x="24">m_pAllocatedStack</tspan><tspan x="10" dy="20">-</tspan><tspan x="24">m_Id</tspan><tspan x="10" dy="20">-</tspan><tspan x="24">m_TaskId</tspan><tspan x="24" dy="20">and 55 more...</tspan></text>
<text class="t" y="244"><tspan x="10" dy="20">+</tspan><tspan x="24">currentUserReturnFrame()</tspan><tspan x="10" dy="20">+</tspan><tspan x="24">tryRequireSignalFrames()</tspan><tspan x="10" dy="20">+</tspan><tspan x="24">clearSignalFrameRequirement()</tspan><tspan x="10" dy="20">+</tspan><tspan x="24">setUserReturnSignalParked()</tspan><tspan x="10" dy="20">+</tspan><tspan x="24">canSkipUserReturnWork()</tspan><tspan x="10" dy="20">+</tspan><tspan x="24">clearUserReturnWorkIfIdle()</tspan><tspan x="10" dy="20">+</tspan><tspan x="24">userReturnWorkPending()</tspan><tspan x="10" dy="20">+</tspan><tspan x="24">requiresSignalFrames()</tspan><tspan x="10" dy="20">+</tspan><tspan x="24">Thread()</tspan><tspan x="10" dy="20">+</tspan><tspan x="24">Thread()</tspan><tspan x="24" dy="20">and 132 more...</tspan><tspan x="10" dy="20">+</tspan><tspan x="24">threadExited()</tspan><tspan x="10" dy="20">#</tspan><tspan x="24">setScheduler()</tspan><tspan x="10" dy="20">#</tspan><tspan x="24">deferEvents()</tspan><tspan x="10" dy="20">#</tspan><tspan x="24">resumeEvents()</tspan><tspan x="10" dy="20">#</tspan><tspan x="24">deferTermination()</tspan><tspan x="10" dy="20">#</tspan><tspan x="24">resumeTermination()</tspan><tspan x="10" dy="20">#</tspan><tspan x="24">markUserReturnWorkFlag()</tspan><tspan x="10" dy="20">#</tspan><tspan x="24">clearUserReturnWorkFlag()</tspan><tspan x="10" dy="20">#</tspan><tspan x="24">markUserReturnWorkPending()</tspan><tspan x="10" dy="20">#</tspan><tspan x="24">registerDeferredScope()</tspan><tspan x="10" dy="20">#</tspan><tspan x="24">armStateCleanup()</tspan><tspan x="24" dy="20">and 10 more...</tspan><tspan x="10" dy="20">-</tspan><tspan x="24">registerFreshTermination</tspan><tspan x="24" dy="16">Deferral()</tspan><tspan x="10" dy="20">-</tspan><tspan x="24">Thread()</tspan><tspan x="10" dy="20">-</tspan><tspan x="24">Thread()</tspan><tspan x="10" dy="20">-</tspan><tspan x="24">operator=()</tspan><tspan x="10" dy="20">-</tspan><tspan x="24">publishTimeAccounting()</tspan><tspan x="10" dy="20">-</tspan><tspan x="24">initialisePlacement()</tspan><tspan x="10" dy="20">-</tspan><tspan x="24">publishReadyNotification()</tspan><tspan x="10" dy="20">-</tspan><tspan x="24">cleanStateLevel()</tspan><tspan x="10" dy="20">-</tspan><tspan x="24">beginTemporarySignalMask()</tspan><tspan x="10" dy="20">-</tspan><tspan x="24">finishTemporarySignalMask()</tspan><tspan x="24" dy="20">and 24 more...</tspan><tspan x="10" dy="20">-</tspan><tspan x="24">discardJoin()</tspan></text></g>

<g id="n_subsystem" class="dk" transform="translate(2943,3095)"><rect width="203" height="406"/><line x1="0" y1="22" x2="203" y2="22"/><line x1="0" y1="46" x2="203" y2="46"/>
<text class="h" x="101" y="16">Subsystem</text>
<text class="t" y="20"><tspan x="10" dy="20">#</tspan><tspan x="24">m_Type</tspan></text>
<text class="t" y="44"><tspan x="10" dy="20">+</tspan><tspan x="24">userReturnCheckpoint()</tspan><tspan x="10" dy="20">+</tspan><tspan x="24">userReturnEvent()</tspan><tspan x="10" dy="20">+</tspan><tspan x="24">Subsystem()</tspan><tspan x="10" dy="20">+</tspan><tspan x="24">Subsystem()</tspan><tspan x="10" dy="20">+</tspan><tspan x="24">Subsystem()</tspan><tspan x="10" dy="20">+</tspan><tspan x="24">~Subsystem()</tspan><tspan x="10" dy="20">+</tspan><tspan x="24">acquire()</tspan><tspan x="10" dy="20">+</tspan><tspan x="24">release()</tspan><tspan x="10" dy="20">+</tspan><tspan x="24">exit()</tspan><tspan x="10" dy="20">+</tspan><tspan x="24">kill()</tspan><tspan x="24" dy="20">and 8 more...</tspan><tspan x="10" dy="20">#</tspan><tspan x="24">prepareThreadsForExec()</tspan><tspan x="10" dy="20">#</tspan><tspan x="24">preserveProcessSignalsFor</tspan><tspan x="24" dy="16">ThreadExit()</tspan><tspan x="10" dy="20">#</tspan><tspan x="24">threadExiting()</tspan><tspan x="10" dy="20">#</tspan><tspan x="24">threadRemoved()</tspan><tspan x="10" dy="20">-</tspan><tspan x="24">operator=()</tspan></text></g>

<g id="n_vector" class="or" transform="translate(2387,3902)"><rect width="141" height="350"/><line x1="0" y1="22" x2="141" y2="22"/><line x1="0" y1="106" x2="141" y2="106"/>
<text class="h" x="70" y="16">Vector&lt; Thread * &gt;</text>
<text class="t" y="20"><tspan x="10" dy="20">-</tspan><tspan x="24">m_Size</tspan><tspan x="10" dy="20">-</tspan><tspan x="24">m_Count</tspan><tspan x="10" dy="20">-</tspan><tspan x="24">m_Start</tspan><tspan x="10" dy="20">-</tspan><tspan x="24">m_ReserveFactor</tspan></text>
<text class="t" y="104"><tspan x="10" dy="20">+</tspan><tspan x="24">Vector()</tspan><tspan x="10" dy="20">+</tspan><tspan x="24">Vector()</tspan><tspan x="10" dy="20">+</tspan><tspan x="24">Vector()</tspan><tspan x="10" dy="20">+</tspan><tspan x="24">~Vector()</tspan><tspan x="10" dy="20">+</tspan><tspan x="24">operator=()</tspan><tspan x="10" dy="20">+</tspan><tspan x="24">operator[]()</tspan><tspan x="10" dy="20">+</tspan><tspan x="24">operator[]()</tspan><tspan x="10" dy="20">+</tspan><tspan x="24">size()</tspan><tspan x="10" dy="20">+</tspan><tspan x="24">count()</tspan><tspan x="10" dy="20">+</tspan><tspan x="24">pushBack()</tspan><tspan x="24" dy="20">and 25 more...</tspan><tspan x="10" dy="20">-</tspan><tspan x="24">reserve()</tspan></text></g>

<g id="n_ownedthread" class="dk" transform="translate(2903,4272)"><rect width="141" height="266"/><line x1="0" y1="22" x2="141" y2="22"/><line x1="0" y1="42" x2="141" y2="42"/>
<text class="h" x="70" y="16">OwnedThread</text>
<text class="t" y="40"><tspan x="10" dy="20">+</tspan><tspan x="24">OwnedThread()</tspan><tspan x="10" dy="20">+</tspan><tspan x="24">OwnedThread()</tspan><tspan x="10" dy="20">+</tspan><tspan x="24">~OwnedThread()</tspan><tspan x="10" dy="20">+</tspan><tspan x="24">adopt()</tspan><tspan x="10" dy="20">+</tspan><tspan x="24">stop()</tspan><tspan x="10" dy="20">+</tspan><tspan x="24">join()</tspan><tspan x="10" dy="20">+</tspan><tspan x="24">get()</tspan><tspan x="10" dy="20">+</tspan><tspan x="24">operator-&gt;()</tspan><tspan x="10" dy="20">+</tspan><tspan x="24">operator bool()</tspan><tspan x="10" dy="20">-</tspan><tspan x="24">OwnedThread()</tspan><tspan x="10" dy="20">-</tspan><tspan x="24">operator=()</tspan></text></g>

<g id="n_channel" class="lt" transform="translate(728,3233)"><rect width="147" height="110"/><line x1="0" y1="22" x2="147" y2="22"/><line x1="0" y1="66" x2="147" y2="66"/>
<text class="h" x="73" y="16">WaitQueue::Channel</text>
<text class="t" y="20"><tspan x="10" dy="20">+</tspan><tspan x="24">owner</tspan><tspan x="10" dy="20">+</tspan><tspan x="24">value</tspan></text>
<text class="t" y="64"><tspan x="10" dy="20">+</tspan><tspan x="24">Channel()</tspan><tspan x="10" dy="20">+</tspan><tspan x="24">operator==()</tspan></text></g>

<g id="n_waiter" class="lt" transform="translate(725,3921)"><rect width="180" height="310"/><line x1="0" y1="22" x2="180" y2="22"/><line x1="0" y1="146" x2="180" y2="146"/>
<text class="h" x="90" y="16">WaitQueue::Waiter</text>
<text class="t" y="20"><tspan x="10" dy="20">+</tspan><tspan x="24">channelGeneration</tspan><tspan x="10" dy="20">+</tspan><tspan x="24">stateLevel</tspan><tspan x="10" dy="20">+</tspan><tspan x="24">reason</tspan><tspan x="10" dy="20">+</tspan><tspan x="24">queued</tspan><tspan x="10" dy="20">+</tspan><tspan x="24">legacyOnAbandon</tspan><tspan x="10" dy="20">+</tspan><tspan x="24">legacyAbandonContext</tspan></text>
<text class="t" y="144"><tspan x="10" dy="20">+</tspan><tspan x="24">loadQueue()</tspan><tspan x="10" dy="20">+</tspan><tspan x="24">storeQueue()</tspan><tspan x="10" dy="20">+</tspan><tspan x="24">loadReason()</tspan><tspan x="10" dy="20">+</tspan><tspan x="24">storeReason()</tspan><tspan x="10" dy="20">+</tspan><tspan x="24">isQueued()</tspan><tspan x="10" dy="20">+</tspan><tspan x="24">setQueued()</tspan><tspan x="10" dy="20">+</tspan><tspan x="24">storeChannel()</tspan><tspan x="10" dy="20">+</tspan><tspan x="24">snapshotChannel()</tspan></text></g>

<g id="n_dtrnode" class="dk" transform="translate(1567,3930)"><rect width="210" height="66"/><line x1="0" y1="22" x2="210" y2="22"/><line x1="0" y1="42" x2="210" y2="42"/>
<text class="h" x="105" y="16">DeferredThreadReapNode</text>
<text class="t" y="40"><tspan x="10" dy="20">+</tspan><tspan x="24">DeferredThreadReapNode()</tspan></text></g>

<g id="n_key" class="lt" transform="translate(314,4687)"><rect width="183" height="148"/><line x1="0" y1="40" x2="183" y2="40"/><line x1="0" y1="104" x2="183" y2="104"/>
<text class="h" x="91" y="16">UsbHcd::CallbackDelivery</text><text class="h" x="91" y="34">Queue::Key</text>
<text class="t" y="38"><tspan x="10" dy="20">+</tspan><tspan x="24">transaction</tspan><tspan x="10" dy="20">+</tspan><tspan x="24">generation</tspan><tspan x="10" dy="20">+</tspan><tspan x="24">subscription</tspan></text>
<text class="t" y="102"><tspan x="10" dy="20">+</tspan><tspan x="24">Key()</tspan><tspan x="10" dy="20">+</tspan><tspan x="24">operator==()</tspan></text></g>

<g id="n_waitqueue" class="dk" transform="translate(831,4560)"><rect width="200" height="390"/><line x1="0" y1="22" x2="200" y2="22"/><line x1="0" y1="66" x2="200" y2="66"/>
<text class="h" x="100" y="16">WaitQueue</text>
<text class="t" y="20"><tspan x="10" dy="20">-</tspan><tspan x="24">m_WaiterCount</tspan><tspan x="10" dy="20">-</tspan><tspan x="24">m_WaitIntent</tspan></text>
<text class="t" y="64"><tspan x="10" dy="20">+</tspan><tspan x="24">WaitQueue()</tspan><tspan x="10" dy="20">+</tspan><tspan x="24">~WaitQueue()</tspan><tspan x="10" dy="20">+</tspan><tspan x="24">acquire()</tspan><tspan x="10" dy="20">+</tspan><tspan x="24">wakeOne()</tspan><tspan x="10" dy="20">+</tspan><tspan x="24">wakeAll()</tspan><tspan x="10" dy="20">+</tspan><tspan x="24">wakeAllIfWaiting()</tspan><tspan x="10" dy="20">+</tspan><tspan x="24">waiterCount()</tspan><tspan x="10" dy="20">-</tspan><tspan x="24">wait()</tspan><tspan x="10" dy="20">-</tspan><tspan x="24">wakeOneLocked()</tspan><tspan x="10" dy="20">-</tspan><tspan x="24">wakeAllLocked()</tspan><tspan x="10" dy="20">-</tspan><tspan x="24">wakeAndRequeueLocked()</tspan><tspan x="10" dy="20">-</tspan><tspan x="24">completeWaiter()</tspan><tspan x="10" dy="20">-</tspan><tspan x="24">removeWaiterLocked()</tspan><tspan x="10" dy="20">-</tspan><tspan x="24">clearWaitIntentIfEmpty()</tspan><tspan x="10" dy="20">-</tspan><tspan x="24">cancel()</tspan><tspan x="10" dy="20">-</tspan><tspan x="24">publishReady()</tspan></text></g>

<g id="n_statelevel" class="rd" transform="translate(1081,4553)"><rect width="259" height="402"/><line x1="0" y1="22" x2="259" y2="22"/><line x1="0" y1="318" x2="259" y2="318"/>
<text class="h" x="129" y="16">Thread::StateLevel</text>
<text class="t" y="20"><tspan x="10" dy="20">+</tspan><tspan x="24">m_State</tspan><tspan x="10" dy="20">+</tspan><tspan x="24">m_SignalMask</tspan><tspan x="10" dy="20">+</tspan><tspan x="24">m_SavedSignalMask</tspan><tspan x="10" dy="20">+</tspan><tspan x="24">m_TemporarySignalMaskActive</tspan><tspan x="10" dy="20">+</tspan><tspan x="24">m_TemporarySignalWaitInterrupted</tspan><tspan x="10" dy="20">+</tspan><tspan x="24">m_DeferredSignalMaskRestore</tspan><tspan x="10" dy="20">+</tspan><tspan x="24">m_DispatchedSignalNumber</tspan><tspan x="10" dy="20">+</tspan><tspan x="24">m_DispatchedSignalContinuation</tspan><tspan x="24" dy="16">Epoch</tspan><tspan x="10" dy="20">+</tspan><tspan x="24">m_bOwnsAlternateSignalStack</tspan><tspan x="10" dy="20">+</tspan><tspan x="24">m_Errno</tspan><tspan x="10" dy="20">+</tspan><tspan x="24">m_InterruptionReason</tspan><tspan x="10" dy="20">+</tspan><tspan x="24">m_bDispatchingWaitEvent</tspan><tspan x="10" dy="20">+</tspan><tspan x="24">m_bTerminalWaitCancelled</tspan><tspan x="24" dy="16">BeforeBlock</tspan></text>
<text class="t" y="316"><tspan x="10" dy="20">+</tspan><tspan x="24">StateLevel()</tspan><tspan x="10" dy="20">+</tspan><tspan x="24">~StateLevel()</tspan><tspan x="10" dy="20">+</tspan><tspan x="24">StateLevel()</tspan><tspan x="10" dy="20">+</tspan><tspan x="24">operator=()</tspan></text></g>

<g id="n_mpsc" class="or" transform="translate(1780,4978)"><rect width="203" height="300"/><line x1="0" y1="76" x2="203" y2="76"/><line x1="0" y1="96" x2="203" y2="96"/>
<text class="h" x="101" y="16">IntrusiveMpscQueue</text><text class="h" x="101" y="34">&lt; DeferredThreadReapNode,</text><text class="h" x="101" y="52">&amp;DeferredThreadReapNode</text><text class="h" x="101" y="70">::next &gt;</text>
<text class="t" y="94"><tspan x="10" dy="20">+</tspan><tspan x="24">IntrusiveMpscQueue()</tspan><tspan x="10" dy="20">+</tspan><tspan x="24">push()</tspan><tspan x="10" dy="20">+</tspan><tspan x="24">pop()</tspan><tspan x="10" dy="20">-</tspan><tspan x="24">IntrusiveMpscQueue()</tspan><tspan x="10" dy="20">-</tspan><tspan x="24">operator=()</tspan><tspan x="10" dy="20">-</tspan><tspan x="24">beginPush()</tspan><tspan x="10" dy="20">-</tspan><tspan x="24">loadHead()</tspan><tspan x="10" dy="20">-</tspan><tspan x="24">finishPush()</tspan><tspan x="10" dy="20">-</tspan><tspan x="24">loadNext()</tspan><tspan x="10" dy="20">-</tspan><tspan x="24">storeNext()</tspan></text></g>

<g id="n_record" class="gr" transform="translate(314,5292)"><rect width="183" height="368"/><line x1="0" y1="40" x2="183" y2="40"/><line x1="0" y1="244" x2="183" y2="244"/>
<text class="h" x="91" y="16">UsbHcd::CallbackDelivery</text><text class="h" x="91" y="34">Queue::Record</text>
<text class="t" y="38"><tspan x="10" dy="20">-</tspan><tspan x="24">m_Callback</tspan><tspan x="10" dy="20">-</tspan><tspan x="24">m_Parameter</tspan><tspan x="10" dy="20">-</tspan><tspan x="24">m_Result</tspan><tspan x="10" dy="20">-</tspan><tspan x="24">m_AfterDelivery</tspan><tspan x="10" dy="20">-</tspan><tspan x="24">m_AfterDeliveryContext</tspan><tspan x="10" dy="20">-</tspan><tspan x="24">m_OnDestroy</tspan><tspan x="10" dy="20">-</tspan><tspan x="24">m_DestroyContext</tspan><tspan x="10" dy="20">-</tspan><tspan x="24">m_State</tspan><tspan x="10" dy="20">-</tspan><tspan x="24">m_Runner</tspan><tspan x="10" dy="20">-</tspan><tspan x="24">m_Completed</tspan></text>
<text class="t" y="242"><tspan x="10" dy="20">-</tspan><tspan x="24">Record()</tspan><tspan x="10" dy="20">-</tspan><tspan x="24">~Record()</tspan><tspan x="10" dy="20">-</tspan><tspan x="24">retain()</tspan><tspan x="10" dy="20">-</tspan><tspan x="24">release()</tspan><tspan x="10" dy="20">-</tspan><tspan x="24">waitForCompletion()</tspan><tspan x="10" dy="20">-</tspan><tspan x="24">complete()</tspan></text></g>

<g id="n_sww" class="dk" transform="translate(646,5440)"><rect width="183" height="66"/><line x1="0" y1="22" x2="183" y2="22"/><line x1="0" y1="42" x2="183" y2="42"/>
<text class="h" x="91" y="16">SchedulerWorkerWake</text>
<text class="t" y="40"><tspan x="10" dy="20">+</tspan><tspan x="24">SchedulerWorkerWake()</tspan></text></g>

<g id="n_condvar" class="dk" transform="translate(947,5369)"><rect width="165" height="210"/><line x1="0" y1="22" x2="165" y2="22"/><line x1="0" y1="46" x2="165" y2="46"/>
<text class="h" x="82" y="16">ConditionVariable</text>
<text class="t" y="20"><tspan x="10" dy="20">-</tspan><tspan x="24">m_Private</tspan></text>
<text class="t" y="44"><tspan x="10" dy="20">+</tspan><tspan x="24">ConditionVariable()</tspan><tspan x="10" dy="20">+</tspan><tspan x="24">~ConditionVariable()</tspan><tspan x="10" dy="20">+</tspan><tspan x="24">wait()</tspan><tspan x="10" dy="20">+</tspan><tspan x="24">wait()</tspan><tspan x="10" dy="20">+</tspan><tspan x="24">waitForCompletion()</tspan><tspan x="10" dy="20">+</tspan><tspan x="24">signal()</tspan><tspan x="10" dy="20">+</tspan><tspan x="24">broadcast()</tspan><tspan x="10" dy="20">+</tspan><tspan x="24">mutexAcquired()</tspan></text></g>

<g id="n_sth" class="dk" transform="translate(1732,5429)"><rect width="205" height="86"/><line x1="0" y1="22" x2="205" y2="22"/><line x1="0" y1="42" x2="205" y2="42"/>
<text class="h" x="102" y="16">SchedulerTimerHandler</text>
<text class="t" y="40"><tspan x="10" dy="20">+</tspan><tspan x="24">timer()</tspan><tspan x="10" dy="20">+</tspan><tspan x="24">~SchedulerTimerHandler()</tspan></text></g>

<g id="n_schedalg" class="dk" transform="translate(1961,5399)"><rect width="187" height="146"/><line x1="0" y1="22" x2="187" y2="22"/><line x1="0" y1="42" x2="187" y2="42"/>
<text class="h" x="93" y="16">SchedulingAlgorithm</text>
<text class="t" y="40"><tspan x="10" dy="20">+</tspan><tspan x="24">~SchedulingAlgorithm()</tspan><tspan x="10" dy="20">+</tspan><tspan x="24">addThread()</tspan><tspan x="10" dy="20">+</tspan><tspan x="24">removeThread()</tspan><tspan x="10" dy="20">+</tspan><tspan x="24">getNext()</tspan><tspan x="10" dy="20">+</tspan><tspan x="24">threadStatusChanged()</tspan></text></g>

<g id="n_opbarrier" class="dk" transform="translate(2172,5319)"><rect width="256" height="310"/><line x1="0" y1="22" x2="256" y2="22"/><line x1="0" y1="66" x2="256" y2="66"/>
<text class="h" x="128" y="16">OperationBarrier</text>
<text class="t" y="20"><tspan x="10" dy="20">-</tspan><tspan x="24">m_Open</tspan><tspan x="10" dy="20">-</tspan><tspan x="24">m_ActiveOperations</tspan></text>
<text class="t" y="64"><tspan x="10" dy="20">+</tspan><tspan x="24">OperationBarrier()</tspan><tspan x="10" dy="20">+</tspan><tspan x="24">~OperationBarrier()</tspan><tspan x="10" dy="20">+</tspan><tspan x="24">tryEnter()</tspan><tspan x="10" dy="20">+</tspan><tspan x="24">tryAcquire()</tspan><tspan x="10" dy="20">+</tspan><tspan x="24">leave()</tspan><tspan x="10" dy="20">+</tspan><tspan x="24">close()</tspan><tspan x="10" dy="20">+</tspan><tspan x="24">tryCloseIfIdle()</tspan><tspan x="10" dy="20">+</tspan><tspan x="24">wait()</tspan><tspan x="10" dy="20">+</tspan><tspan x="24">closeAndWait()</tspan><tspan x="10" dy="20">+</tspan><tspan x="24">isOpen()</tspan><tspan x="10" dy="20">+</tspan><tspan x="24">isClosedAndDrained()</tspan><tspan x="10" dy="20">-</tspan><tspan x="24">NOT_COPYABLE_OR_ASSIGNABLE()</tspan></text></g>

<g id="n_listvoid" class="or" transform="translate(2452,5329)"><rect width="123" height="290"/><line x1="0" y1="22" x2="123" y2="22"/><line x1="0" y1="66" x2="123" y2="66"/>
<text class="h" x="61" y="16">List&lt; void * &gt;</text>
<text class="t" y="20"><tspan x="10" dy="20">-</tspan><tspan x="24">m_Count</tspan><tspan x="10" dy="20">-</tspan><tspan x="24">m_Magic</tspan></text>
<text class="t" y="64"><tspan x="10" dy="20">+</tspan><tspan x="24">List()</tspan><tspan x="10" dy="20">+</tspan><tspan x="24">List()</tspan><tspan x="10" dy="20">+</tspan><tspan x="24">~List()</tspan><tspan x="10" dy="20">+</tspan><tspan x="24">operator=()</tspan><tspan x="10" dy="20">+</tspan><tspan x="24">size()</tspan><tspan x="10" dy="20">+</tspan><tspan x="24">count()</tspan><tspan x="10" dy="20">+</tspan><tspan x="24">pushBack()</tspan><tspan x="10" dy="20">+</tspan><tspan x="24">pushBack()</tspan><tspan x="10" dy="20">+</tspan><tspan x="24">tryPushBack()</tspan><tspan x="10" dy="20">+</tspan><tspan x="24">tryPushBack()</tspan><tspan x="24" dy="20">and 16 more...</tspan></text></g>

<g id="n_dtaws" class="dk" transform="translate(2649,5327)"><rect width="236" height="300"/><line x1="0" y1="40" x2="236" y2="40"/><line x1="0" y1="104" x2="236" y2="104"/>
<text class="h" x="118" y="16">DeferredTimeAccountingWorker</text><text class="h" x="118" y="34">State</text>
<text class="t" y="38"><tspan x="10" dy="20">-</tspan><tspan x="24">m_Published</tspan><tspan x="10" dy="20">-</tspan><tspan x="24">m_Completed</tspan><tspan x="10" dy="20">-</tspan><tspan x="24">m_Active</tspan></text>
<text class="t" y="102"><tspan x="10" dy="20">+</tspan><tspan x="24">DeferredTimeAccountingWorker</tspan><tspan x="24" dy="16">State()</tspan><tspan x="10" dy="20">+</tspan><tspan x="24">publish()</tspan><tspan x="10" dy="20">+</tspan><tspan x="24">beginBatch()</tspan><tspan x="10" dy="20">+</tspan><tspan x="24">finishBatch()</tspan><tspan x="10" dy="20">+</tspan><tspan x="24">ready()</tspan><tspan x="10" dy="20">+</tspan><tspan x="24">caughtUp()</tspan><tspan x="10" dy="20">-</tspan><tspan x="24">DeferredTimeAccountingWorker</tspan><tspan x="24" dy="16">State()</tspan><tspan x="10" dy="20">-</tspan><tspan x="24">operator=()</tspan></text></g>

<g id="n_pps" class="lt" transform="translate(1376,5729)"><rect width="264" height="822"/><line x1="0" y1="22" x2="264" y2="22"/><line x1="0" y1="246" x2="264" y2="246"/>
<text class="h" x="132" y="16">PerProcessorScheduler</text>
<text class="t" y="20"><tspan x="10" dy="20">-</tspan><tspan x="24">m_NewThreadAdmissionOpen</tspan><tspan x="10" dy="20">-</tspan><tspan x="24">m_StopNewThreadWorker</tspan><tspan x="10" dy="20">-</tspan><tspan x="24">m_AffinityAdmissionOpen</tspan><tspan x="10" dy="20">-</tspan><tspan x="24">m_LogicalCpu</tspan><tspan x="10" dy="20">-</tspan><tspan x="24">m_PhysicalCpu</tspan><tspan x="10" dy="20">-</tspan><tspan x="24">m_NominalQuantumNs</tspan><tspan x="10" dy="20">-</tspan><tspan x="24">m_IdleWakeRequested</tspan><tspan x="10" dy="20">-</tspan><tspan x="24">m_SchedulerTickCounter</tspan><tspan x="10" dy="20">-</tspan><tspan x="24">m_UserReturnDiagnosticSequence</tspan><tspan x="10" dy="20">-</tspan><tspan x="24">DeferredReapPublicationClosed</tspan><tspan x="10" dy="20">-</tspan><tspan x="24">DeferredReapPublicationCountMask</tspan></text>
<text class="t" y="244"><tspan x="10" dy="20">+</tspan><tspan x="24">PerProcessorScheduler()</tspan><tspan x="10" dy="20">+</tspan><tspan x="24">~PerProcessorScheduler()</tspan><tspan x="10" dy="20">+</tspan><tspan x="24">initialise()</tspan><tspan x="10" dy="20">+</tspan><tspan x="24">checkEventState()</tspan><tspan x="10" dy="20">+</tspan><tspan x="24">eventHandlerReturned()</tspan><tspan x="10" dy="20">+</tspan><tspan x="24">addThread()</tspan><tspan x="10" dy="20">+</tspan><tspan x="24">addThread()</tspan><tspan x="10" dy="20">+</tspan><tspan x="24">commitCurrentThreadExit()</tspan><tspan x="10" dy="20">+</tspan><tspan x="24">abandonCurrentThreadStack()</tspan><tspan x="10" dy="20">+</tspan><tspan x="24">requestCurrentThreadExit</tspan><tspan x="24" dy="16">ToIdle()</tspan><tspan x="24" dy="20">and 18 more...</tspan><tspan x="10" dy="20">+</tspan><tspan x="24">stackDiscardCount()</tspan><tspan x="10" dy="20">+</tspan><tspan x="24">stackDiscardCount()</tspan><tspan x="10" dy="20">-</tspan><tspan x="24">addThread()</tspan><tspan x="10" dy="20">-</tspan><tspan x="24">killCurrentThread()</tspan><tspan x="10" dy="20">-</tspan><tspan x="24">schedule()</tspan><tspan x="10" dy="20">-</tspan><tspan x="24">scheduleWithInterruptState()</tspan><tspan x="10" dy="20">-</tspan><tspan x="24">blockCurrent()</tspan><tspan x="10" dy="20">-</tspan><tspan x="24">publishReadyFromWait()</tspan><tspan x="10" dy="20">-</tspan><tspan x="24">finishCurrentThreadExit()</tspan><tspan x="10" dy="20">-</tspan><tspan x="24">serviceDeferredSubsystem</tspan><tspan x="24" dy="16">Exception()</tspan><tspan x="10" dy="20">-</tspan><tspan x="24">checkEventState()</tspan><tspan x="10" dy="20">-</tspan><tspan x="24">checkEventState()</tspan><tspan x="24" dy="20">and 14 more...</tspan><tspan x="10" dy="20">-</tspan><tspan x="24">deleteThreadThenRestoreState()</tspan><tspan x="10" dy="20">-</tspan><tspan x="24">deleteThread()</tspan><tspan x="10" dy="20">-</tspan><tspan x="24">timeAccountingWorkerEntry()</tspan><tspan x="10" dy="20">-</tspan><tspan x="24">processorAddThread()</tspan></text></g>
</svg>
